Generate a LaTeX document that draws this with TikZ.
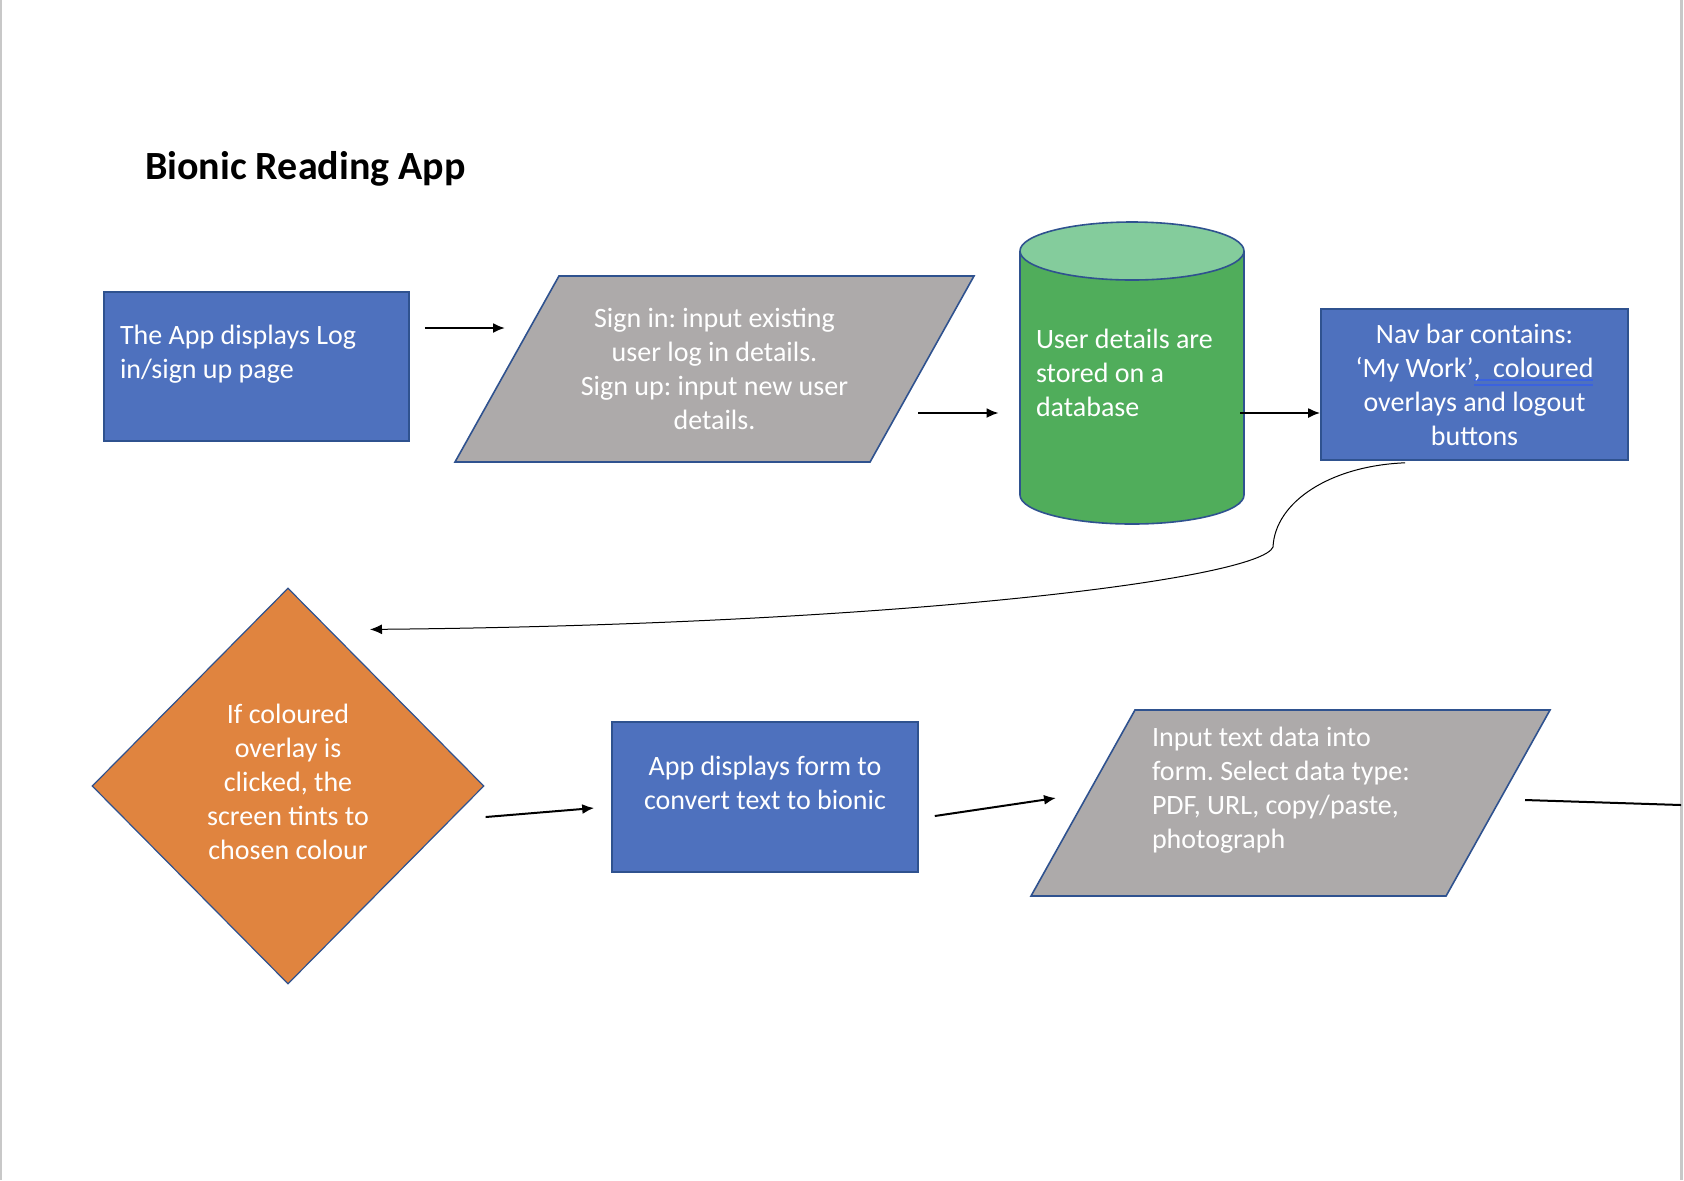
\documentclass[tikz,border=0pt]{standalone}
\usepackage{fontspec}
\setmainfont{Carlito}
\usetikzlibrary{shapes.geometric,arrows.meta}

\definecolor{boxblue}{HTML}{4E71BE}
\definecolor{edgeblue}{HTML}{2F528F}
\definecolor{slabgray}{HTML}{ADAAAA}
\definecolor{dbgreen}{HTML}{50AD5B}
\definecolor{dbtop}{HTML}{84CC9C}
\definecolor{choiceorange}{HTML}{E0843F}
\definecolor{pagegray}{HTML}{C8C8C8}
\definecolor{markblue}{HTML}{3A62E0}

\newcommand{\bodyfont}{\fontsize{14pt}{17pt}\selectfont\frenchspacing}
\newcommand{\markline}[1]{\setbox0\hbox{#1}%
  \rlap{\color{markblue}\rule[-1.9pt]{\wd0}{0.8pt}}%
  \rlap{\color{markblue}\rule[-4.4pt]{\wd0}{0.8pt}}\box0}

\tikzset{
  procbox/.style={rectangle, draw=edgeblue, line width=0.8pt, fill=boxblue,
    text=white, font=\bodyfont, minimum width=152.5pt, minimum height=74.5pt},
  iobox/.style={trapezium, trapezium left angle=60.8, trapezium right angle=119.2,
    trapezium stretches body, draw=edgeblue, line width=0.8pt, fill=slabgray,
    text=white, font=\bodyfont, inner ysep=0pt,
    minimum width=259.5pt, minimum height=93pt},
  choicebox/.style={diamond, draw=edgeblue, line width=0.6pt, fill=choiceorange,
    text=white, font=\bodyfont, align=center,
    minimum width=196pt, minimum height=198pt},
  dbbox/.style={text=white, font=\bodyfont, inner sep=0pt,
    minimum width=112pt, minimum height=151pt},
  flow/.style={->, line width=1pt},
  backflow/.style={->, line width=0.5pt},
}

\begin{document}
\begin{tikzpicture}[x=0.5pt, y=-0.5pt, >={Latex[length=6pt,width=5pt]}]

  \useasboundingbox (0,0) rectangle (1684,1180);
  \fill[pagegray] (0,0) rectangle (2,1180);
  \fill[pagegray] (1680,0) rectangle (1683,1180);

  \node[anchor=base west, font=\fontsize{20pt}{24pt}\selectfont\bfseries] (title) at (138,179) {Bionic Reading App};

  \node[procbox, text width=136.5pt, inner xsep=8pt, align=flush left] (login) at (256.5,366.5)
    {The App displays Log\\in/sign up page\\[-2pt]\mbox{}};
  \node[iobox, text width=140pt, align=flush center, text height=25.6pt, text depth=67.4pt] (signin) at (714.5,369)
    {Sign in: input existing\\user log in details.\\Sign up: input new user\\details.};

  % database cylinder
  \filldraw[draw=edgeblue, line width=0.8pt, fill=dbgreen] (1132,495) ellipse [x radius=112, y radius=29];
  \fill[dbgreen] (1020,251) rectangle (1244,495);
  \draw[edgeblue, line width=0.8pt] (1020,251) -- (1020,495) (1244,251) -- (1244,495);
  \filldraw[draw=edgeblue, line width=0.8pt, fill=dbtop] (1132,251) ellipse [x radius=112, y radius=29];
  \node[dbbox, text width=96pt, align=flush left] (db) at (1132,373)
    {User details are\\stored on a\\database};

  \node[procbox, minimum width=153.5pt, minimum height=75.5pt, align=center] (navbar) at (1474.5,384.5)
    {Nav bar contains:\\‘My Work’\markline{,\ \ coloured}\\overlays and logout\\buttons};

  \node[choicebox] (overlay) at (288,786)
    {If coloured\\overlay is\\clicked, the\\screen tints to\\chosen colour\\[-12.5pt]\mbox{}};
  \node[procbox, minimum width=153pt, minimum height=75pt, align=center] (form) at (765,797)
    {App displays form to\\convert text to bionic\\[-2.5pt]\mbox{}};
  \node[iobox, text width=138.5pt, align=flush left, text height=18.25pt, text depth=74.75pt] (inputdata) at (1290.5,803)
    {Input text data into\\form. Select data type:\\PDF, URL, copy/paste,\\photograph};

  \coordinate (kink) at (1273,547);
  \coordinate (offpage) at (1681,805);

  \path[flow] ([shift={(15,-38.5)}]login.east) edge ([shift={(-209.5,-41)}]signin.center);
  \path[flow] ([shift={(203.5,44)}]signin.center) edge ([shift={(-21,40)}]db.west);
  \path[flow] ([shift={(-4,40)}]db.east) edge ([shift={(0,28.5)}]navbar.west);
  \draw[backflow] ([shift={(-69.5,2)}]navbar.south) .. controls +(-75,3) and +(2,-45) .. (kink)
    .. controls +(-13,32) and +(530,-5) .. ([shift={(82,42)}]overlay.north);
  \path[flow] ([shift={(1,31)}]overlay.east) edge ([shift={(-17,11)}]form.west);
  \path[flow] ([shift={(16,19)}]form.east) edge ([shift={(-234.5,-5)}]inputdata.center);
  \draw[line width=1pt] ([shift={(234.5,-3)}]inputdata.center) -- (offpage);

\end{tikzpicture}
\end{document}
